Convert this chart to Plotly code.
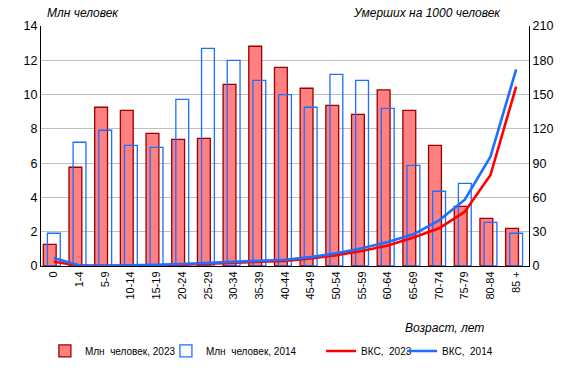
import plotly.graph_objects as go

categories = ["0", "1-4", "5-9", "10-14", "15-19", "20-24", "25-29", "30-34", "35-39",
              "40-44", "45-49", "50-54", "55-59", "60-64", "65-69", "70-74", "75-79",
              "80-84", "85 +"]

pop_2023 = [1.26, 5.76, 9.26, 9.08, 7.74, 7.39, 7.45, 10.6, 12.82, 11.59, 10.37, 9.37,
            8.85, 10.27, 9.08, 7.04, 3.48, 2.78, 2.2]
pop_2014 = [1.91, 7.22, 7.92, 7.04, 6.92, 9.72, 12.7, 12.0, 10.83, 10.0, 9.26, 11.18,
            10.83, 9.2, 5.87, 4.36, 4.82, 2.55, 1.91]

mort_2023 = [3.8, 0.3, 0.2, 0.25, 0.6, 1.2, 2.0, 2.8, 3.6, 4.5, 6.5, 9.5, 13.2, 18.0,
             25.0, 33.0, 47.5, 79.6, 157.0]
mort_2014 = [7.0, 0.4, 0.25, 0.35, 1.0, 1.8, 2.8, 3.8, 4.6, 5.5, 7.8, 11.2, 15.5, 21.0,
             27.7, 40.0, 58.0, 95.6, 172.0]

FONT = "Liberation Sans, Arial, sans-serif"

fig = go.Figure()

fig.add_trace(go.Bar(
    x=categories, y=pop_2023, name="Млн  человек, 2023",
    marker=dict(color="#FF8080", line=dict(color="#990000", width=1.3)),
    width=0.5, offset=-0.41, legend="legend",
))
fig.add_trace(go.Bar(
    x=categories, y=pop_2014, name="Млн  человек, 2014",
    marker=dict(color="rgba(255,255,255,0)", line=dict(color="#1E6EFF", width=1.3)),
    width=0.5, offset=-0.25, legend="legend2",
))
fig.add_trace(go.Scatter(
    x=categories, y=mort_2023, name="ВКС,  2023", yaxis="y2", mode="lines",
    line=dict(color="#FF0000", width=2.6), legend="legend3",
))
fig.add_trace(go.Scatter(
    x=categories, y=mort_2014, name="ВКС,  2014", yaxis="y2", mode="lines",
    line=dict(color="#1E6EFF", width=2.6), legend="legend4",
))


def leg(x):
    return dict(orientation="h", x=x, y=-0.354, xanchor="left", yanchor="middle",
                font=dict(size=10), bgcolor="rgba(0,0,0,0)")


fig.update_layout(
    width=576, height=378,
    margin=dict(l=41, r=47, t=26, b=112, autoexpand=False),
    plot_bgcolor="white", paper_bgcolor="white",
    barmode="overlay",
    font=dict(family=FONT, size=12, color="black"),
    xaxis=dict(
        type="category", tickangle=-90, tickfont=dict(size=11),
        showline=True, linecolor="black", linewidth=1, showgrid=False,
        ticks="", mirror=False,
    ),
    yaxis=dict(
        range=[0, 14], dtick=2, showgrid=True, gridcolor="#BFBFBF", gridwidth=1,
        showline=True, linecolor="black", linewidth=1, ticks="",
        tickfont=dict(size=12.5), zeroline=False,
    ),
    yaxis2=dict(
        range=[0, 210], dtick=30, overlaying="y", side="right", showgrid=False,
        showline=True, linecolor="black", linewidth=1, ticks="",
        tickfont=dict(size=12.5), zeroline=False,
    ),
    legend=leg(0.008),
    legend2=leg(0.256),
    legend3=leg(0.574),
    legend4=leg(0.740),
    showlegend=True,
    annotations=[
        dict(text="<i>Млн человек</i>", x=0.008, y=1.054, xref="paper", yref="paper",
             xanchor="left", yanchor="middle", showarrow=False, font=dict(size=12)),
        dict(text="<i>Умерших на 1000 человек</i>", x=0.947, y=1.054, xref="paper",
             yref="paper", xanchor="right", yanchor="middle", showarrow=False,
             font=dict(size=12)),
        dict(text="<i>Возраст, лет</i>", x=0.912, y=-0.258, xref="paper", yref="paper",
             xanchor="right", yanchor="middle", showarrow=False, font=dict(size=12)),
    ],
)

fig.write_html("out.html", config={"displayModeBar": False},
               post_script="document.body.style.margin='0';")
